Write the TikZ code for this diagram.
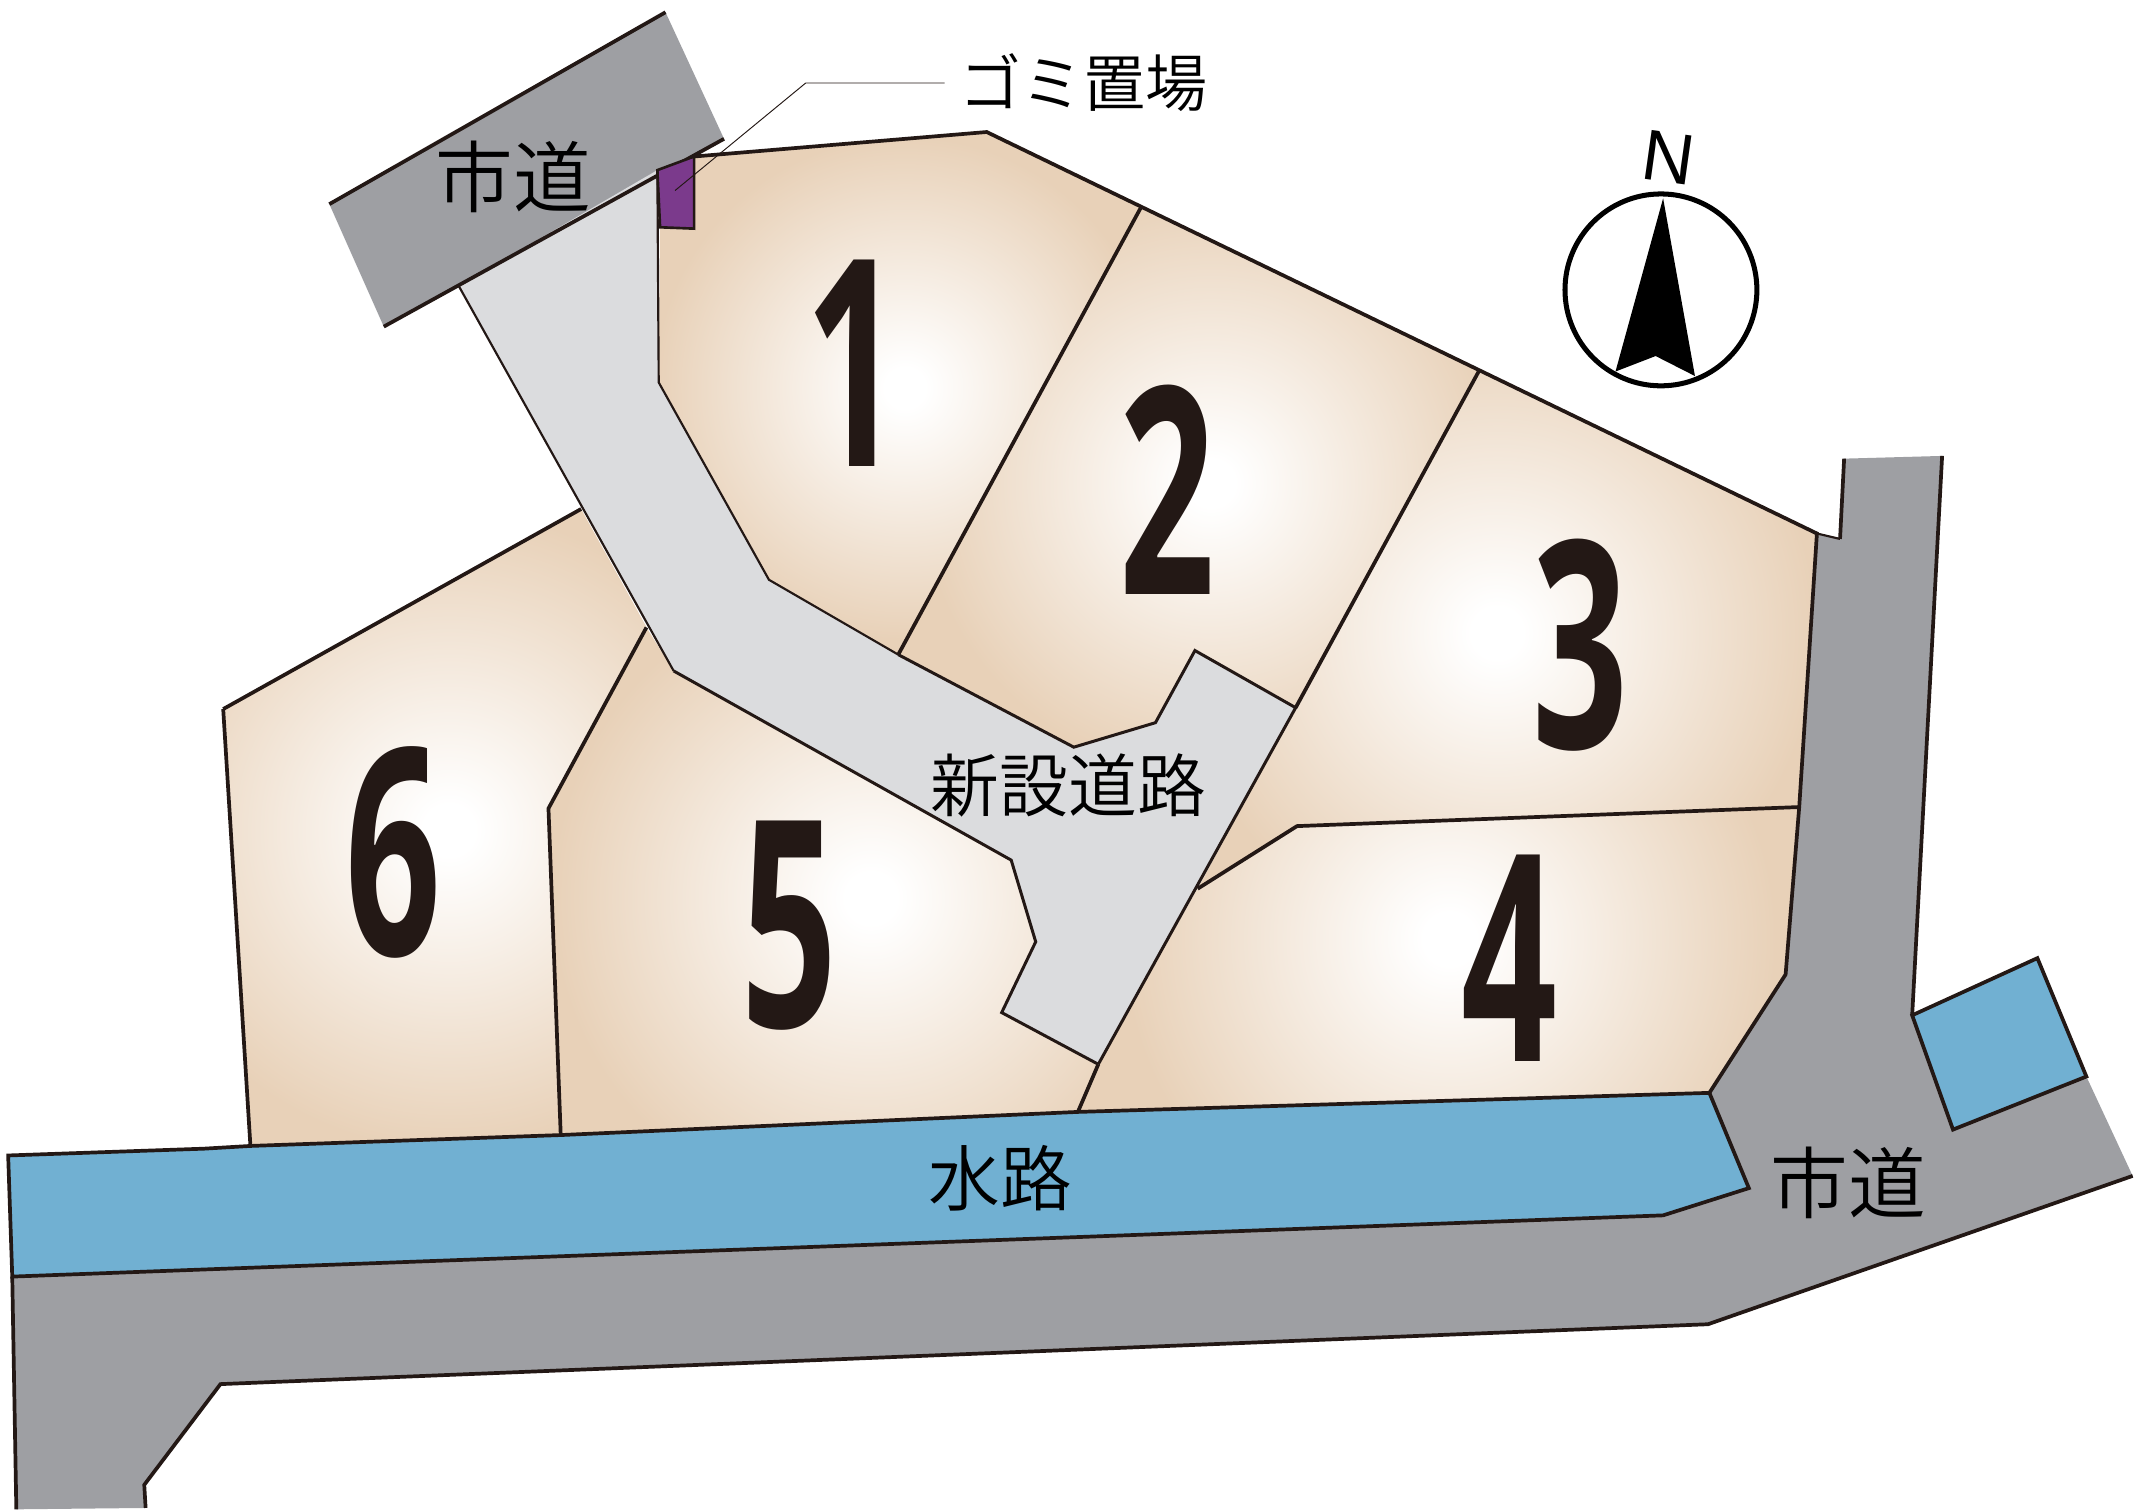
\documentclass[tikz,border=0pt]{standalone}
\usepackage{fontspec}
\setmainfont{Liberation Sans}
\newfontfamily\cjk{Noto Sans CJK JP DemiLight}
\newfontfamily\lotfont[FakeStretch=0.58]{Open Sans Bold}
\definecolor{lotc}{HTML}{E8D1B8}
\definecolor{lotw}{HTML}{FFFFFF}
\definecolor{ink}{HTML}{231815}
\definecolor{roadg}{HTML}{9E9FA3}
\definecolor{newroad}{HTML}{DBDCDE}
\definecolor{water}{HTML}{71B0D2}
\definecolor{trash}{HTML}{7B3A8C}
\pgfdeclareradialshading{lotshade}{\pgfpointorigin}{color(0bp)=(lotw); color(2bp)=(lotw); color(25bp)=(lotc); color(50bp)=(lotc)}
\tikzset{
  edge/.style={draw=ink,line width=1.55pt,line join=miter},
  midedge/.style={draw=ink,line width=1.25pt,line join=miter},
  thinedge/.style={draw=ink,line width=0.9pt},
  hair/.style={draw=ink,line width=0.4pt},
  lotnum/.style={font=\lotfont\fontsize{121}{121}\selectfont,text=ink,inner sep=0pt},
  cjklabel/.style={font=\cjk\fontsize{#1}{#1}\selectfont,text=black,inner sep=0pt},
}
\newcommand{\lotshape}[3]{%
  \fill[lotc] #1 -- cycle;
  \begin{scope}\clip #1 -- cycle;
    \shade[shading=lotshade] (#2) circle (#3);
  \end{scope}
}
\begin{document}
\begin{tikzpicture}[x=0.02cm,y=-0.02cm]
\useasboundingbox (0,0) rectangle (1568,1109.5);
% roads
\fill[roadg] (489,9) -- (532,102) -- (282,240) -- (242,150) -- cycle;
\draw[edge] (242,150) -- (489,9);
\fill[roadg] (1355,337) -- (1427,335) -- (1405,746) -- (1435,830) -- (1533,791) -- (1567,864) -- (1255,973) -- (162,1017) -- (106,1091) -- (107,1108) -- (12,1109) -- (9,938) -- (1222,893) -- (1285,873) -- (1256,803) -- (1312,716) -- (1322,593) -- (1335,392) -- (1352,396) -- cycle;
\draw[thinedge] (1335,392) -- (1352,396);
\draw[edge] (1352,396) -- (1355,337);
\draw[edge] (1427,335) -- (1405,746);
\draw[edge] (1567,864) -- (1255,973) -- (162,1017) -- (106,1091) -- (107,1108);
\draw[edge] (9,938) -- (12,1109);
% lots
\lotshape{(510,115) -- (725,97) -- (838,153) -- (660,481) -- (565,426) -- (484,281) -- (485,167) -- (510,168)}{665,285}{185}
\lotshape{(838,153) -- (1087,272) -- (952,520) -- (878,478) -- (849,531) -- (789,549) -- (660,481)}{890,355}{215}
\lotshape{(1087,272) -- (1335,392) -- (1322,593) -- (953,607) -- (880,653) -- (952,520)}{1100,465}{235}
\lotshape{(880,653) -- (953,607) -- (1322,593) -- (1312,716) -- (1256,803) -- (792,817) -- (807,782)}{1065,690}{240}
\lotshape{(475,461) -- (495,493) -- (743,632) -- (761,692) -- (736,744) -- (807,782) -- (792,817) -- (412,834) -- (403,594)}{640,660}{235}
\lotshape{(164,521) -- (427,374) -- (475,461) -- (403,594) -- (412,834) -- (184,842)}{330,610}{235}
% new road
\fill[newroad] (337,210) -- (483,125) -- (484,281) -- (565,426) -- (660,481) -- (789,549) -- (849,531) -- (878,478) -- (952,520) -- (807,782) -- (736,744) -- (761,692) -- (743,632) -- (495,493) -- cycle;
% street edge above the new road
\draw[edge] (282,240) -- (532,102);
% lot outlines
\draw[edge] (510,115) -- (725,97) -- (1335,392) -- (1322,593) -- (1312,716) -- (1256,803);
\draw[edge] (164,521) -- (427,374);
\draw[edge] (164,521) -- (184,842);
\draw[edge] (838,153) -- (660,481);
\draw[edge] (1087,272) -- (952,520);
\draw[edge] (1322,593) -- (953,607) -- (880,653);
\draw[edge] (475,461) -- (403,594) -- (412,834);
\draw[edge] (807,782) -- (792,817);
\draw[thinedge] (483,125) -- (484,281) -- (565,426) -- (660,481);
\draw[midedge] (660,481) -- (789,549) -- (849,531) -- (878,478) -- (952,520) -- (807,782);
\draw[midedge] (807,782) -- (736,744) -- (761,692) -- (743,632) -- (495,493);
\draw[thinedge] (495,493) -- (337,210);
% trash
\filldraw[fill=trash,draw=ink,line width=1.1pt] (483,125) -- (510,115) -- (510,168) -- (485,167) -- cycle;
% water
\filldraw[fill=water,edge] (6,849) -- (150,844) -- (184,842) -- (412,834) -- (792,817) -- (1256,803) -- (1285,873) -- (1222,893) -- (9,938) -- cycle;
\filldraw[fill=water,edge] (1405,746) -- (1497,704) -- (1533,791) -- (1435,830) -- cycle;
% leader
\coordinate (leadA) at (694,61);
\coordinate (leadB) at (592,61);
\coordinate (leadC) at (496,140);
\draw[hair] (leadA) -- (leadB) -- (leadC);
% labels
\node[cjklabel=26] (gomi) at (796,61) {ゴミ置場};
\node[cjklabel=32.5] (road1) at (377,130) {市道};
\node[cjklabel=32.5] (road2) at (1358,869) {市道};
\node[cjklabel=28.8] (newr) at (785,577) {新設道路};
\node[cjklabel=30] (suiro) at (735,866) {水路};
\node[lotnum] (n1) at (627,267) {1};
\node[lotnum] (n2) at (858,360) {2};
\node[lotnum] (n3) at (1161,474) {3};
\node[lotnum] (n4) at (1109,704) {4};
\node[lotnum] (n5) at (580,680) {5};
\node[lotnum] (n6) at (289,626) {6};
% compass
\draw[black,line width=2.1pt] (1220.4,213) circle (70.5);
\fill[black] (1222,145.7) -- (1245.4,276.3) -- (1216.5,261.6) -- (1187,273) -- cycle;
\node[font=\fontsize{30}{30}\selectfont,rotate=-8,inner sep=0pt,text=black] (north) at (1226,115.5) {N};
\end{tikzpicture}
\end{document}
